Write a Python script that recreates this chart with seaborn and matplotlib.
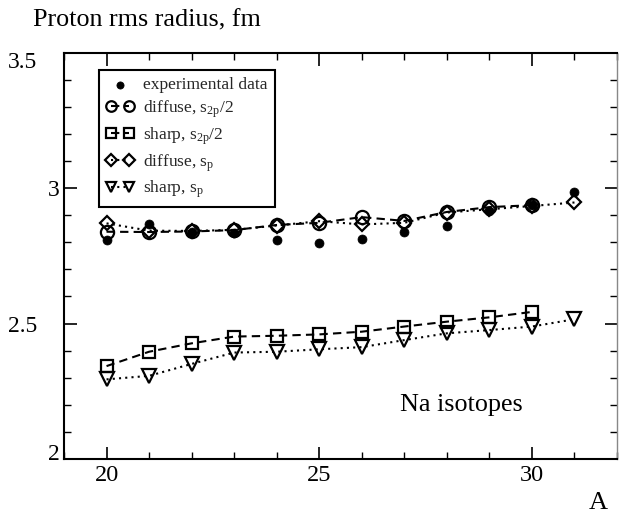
import matplotlib
matplotlib.use("Agg")
import matplotlib.pyplot as plt
import matplotlib.transforms as mtransforms
from matplotlib.ticker import MultipleLocator
import seaborn as sns

# ---- data ----
A_exp = [20, 21, 22, 23, 24, 25, 26, 27, 28, 29, 30, 31]
r_exp = [2.809, 2.866, 2.838, 2.834, 2.809, 2.796, 2.813, 2.837, 2.861, 2.917, 2.937, 2.987]

A_s2p = [20, 21, 22, 23, 24, 25, 26, 27, 28, 29, 30]
diffuse_s2p = [2.839, 2.838, 2.840, 2.845, 2.864, 2.872, 2.893, 2.879, 2.912, 2.930, 2.937]
sharp_s2p = [2.343, 2.396, 2.427, 2.452, 2.455, 2.460, 2.470, 2.489, 2.507, 2.523, 2.543]

A_sp = [20, 21, 22, 23, 24, 25, 26, 27, 28, 29, 30, 31]
diffuse_sp = [2.870, 2.843, 2.842, 2.846, 2.862, 2.878, 2.866, 2.872, 2.910, 2.922, 2.934, 2.947]
sharp_sp = [2.294, 2.307, 2.351, 2.393, 2.396, 2.405, 2.413, 2.439, 2.464, 2.476, 2.489, 2.516]

labels = ["experimental data",
          r"diffuse, s$_{2p}$/2",
          r"sharp, s$_{2p}$/2",
          r"diffuse, s$_{p}$",
          r"sharp, s$_{p}$"]
ytick_vals = [2.0, 2.5, 3.0, 3.5]
ytick_labels = ["2", "2.5", "3", "3.5"]
xtick_vals = [20, 25, 30]

# ---- style ----
sns.set_theme(style="ticks")
plt.rcParams["font.family"] = ["Liberation Serif", "DejaVu Serif"]
plt.rcParams["mathtext.fontset"] = "custom"
plt.rcParams["mathtext.rm"] = "Liberation Serif"
plt.rcParams["mathtext.it"] = "Liberation Serif"
plt.rcParams["mathtext.default"] = "regular"

fig = plt.figure(figsize=(6.19, 5.15), dpi=100)
W, H = 619, 515
L, R, T, B = 64, 617, 52.7, 459
ax = fig.add_axes([L / W, 1 - B / H, (R - L) / W, (B - T) / H])

lw = 1.5
mew = 1.6
sns.scatterplot(x=A_exp, y=r_exp, ax=ax, color="black", s=42, edgecolor="black",
                linewidth=0.5, label=labels[0], zorder=6)
sns.lineplot(x=A_s2p, y=diffuse_s2p, ax=ax, color="black", linestyle=(0, (4, 2.5)), lw=lw,
             marker="o", markersize=9.5, markerfacecolor="none", markeredgecolor="black",
             markeredgewidth=mew, label=labels[1], zorder=4)
sns.lineplot(x=A_s2p, y=sharp_s2p, ax=ax, color="black", linestyle=(0, (4, 2.5)), lw=lw,
             marker="s", markersize=8.5, markerfacecolor="none", markeredgecolor="black",
             markeredgewidth=mew, label=labels[2], zorder=4)
sns.lineplot(x=A_sp, y=diffuse_sp, ax=ax, color="black", linestyle=(0, (1, 2)), lw=lw,
             marker="D", markersize=7.5, markerfacecolor="none", markeredgecolor="black",
             markeredgewidth=mew, label=labels[3], zorder=5)
sns.lineplot(x=A_sp, y=sharp_sp, ax=ax, color="black", linestyle=(0, (1, 2)), lw=lw,
             marker="v", markersize=9.5, markerfacecolor="none", markeredgecolor="black",
             markeredgewidth=mew, label=labels[4], zorder=5)

ax.set_xlim(19, 32)
ax.set_ylim(2, 3.5)
ax.set_xlabel("")
ax.set_ylabel("")
ax.xaxis.set_major_locator(MultipleLocator(5))
ax.xaxis.set_minor_locator(MultipleLocator(1))
ax.set_xticks(xtick_vals)
ax.yaxis.set_major_locator(MultipleLocator(0.5))
ax.yaxis.set_minor_locator(MultipleLocator(0.1))
ax.tick_params(which="both", direction="in", top=True, right=True, color="black",
               labelsize=17.5, labelcolor="black")
ax.tick_params(which="major", length=9, width=1.2, pad=4)
ax.tick_params(which="minor", length=5, width=1.0)
ax.tick_params(axis="y", labelleft=False)
for s in ax.spines.values():
    s.set_linewidth(1.5)
    s.set_color("black")
ax.spines["right"].set_color("#888888")
ax.spines["right"].set_linewidth(1.0)

# y tick labels (placed like the original)
trans = mtransforms.blended_transform_factory(ax.transAxes, ax.transData)
px = 1.0 / (R - L)
dy = 7 / ((B - T) / 1.5)
for v, lab in zip(ytick_vals, ytick_labels):
    xoff = -4 * px if "." not in lab else -27 * px
    yy = v
    if v == 3.5:
        yy = v - dy
    elif v == 2.0:
        yy = v + dy
    ax.text(xoff, yy, lab, transform=trans, ha="right", va="center_baseline",
            fontsize=17, color="black")

leg = ax.legend(loc="upper left", bbox_to_anchor=(35 / (R - L), 1 - (70 - T) / (B - T)),
                borderaxespad=0, numpoints=2, scatterpoints=1, handlelength=1.6,
                handletextpad=0.55, labelspacing=0.3, fontsize=12.5, frameon=True,
                fancybox=False, edgecolor="black", framealpha=1, borderpad=0.4,
                markerscale=0.8)
leg.get_frame().set_linewidth(1.5)

fig.text(33 / W, 1 - 20 / H, "Proton rms radius, fm", ha="left", va="center",
         fontsize=18.8, color="black")
fig.text(598 / W, 1 - 503 / H, "A", ha="center", va="center", fontsize=19, color="black")
ax.text(26.9, 2.207, "Na isotopes", ha="left", va="center_baseline", fontsize=18.8,
        color="black")

fig.savefig("out.png", dpi=100)
